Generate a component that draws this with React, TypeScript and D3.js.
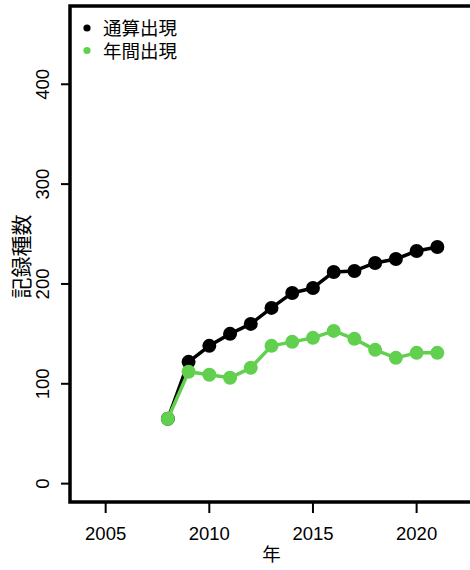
import React from "react";
import * as d3 from "d3";

const years = [2008, 2009, 2010, 2011, 2012, 2013, 2014, 2015, 2016, 2017, 2018, 2019, 2020, 2021];
const cumulative = [65, 122, 138, 150, 160, 176, 191, 196, 212, 213, 221, 225, 233, 237];
const annual = [65, 112, 109, 106, 116, 138, 142, 146, 153, 145, 134, 126, 131, 131];
const xTicks = [2005, 2010, 2015, 2020];
const yTicks = [0, 100, 200, 300, 400];
const seriesNames = ["通算出現", "年間出現"];
const seriesColors = ["#000000", "#61D04F"];
const xLabel = "年";
const yLabel = "記録種数";

const W = 470;
const H = 570;
const plot = { left: 70, right: 473, top: 6, bottom: 502 };
const FONT = "'Liberation Sans', Arial, 'Noto Sans CJK JP', sans-serif";

function ext(a: number, b: number): [number, number] {
  const d = (b - a) * 0.04;
  return [a - d, b + d];
}

export default function App() {
  const x = d3.scaleLinear().domain(ext(2004, 2022)).range([plot.left, plot.right]);
  const y = d3.scaleLinear().domain(ext(0, 460)).range([plot.bottom, plot.top]);
  const line = d3
    .line<number>()
    .x((_, i) => x(years[i]))
    .y((v) => y(v));
  const series = [cumulative, annual];
  const fs = 18.5;
  return (
    <svg
      width={W}
      height={H}
      style={{ position: "absolute", left: 0, top: 0, background: "#fff" }}
      fontFamily={FONT}
    >
      <rect x={0} y={0} width={W} height={H} fill="#fff" />
      {/* box */}
      <rect
        x={plot.left}
        y={plot.top}
        width={plot.right - plot.left}
        height={plot.bottom - plot.top}
        fill="none"
        stroke="#000"
        strokeWidth={3.5}
      />
      {/* y axis */}
      {yTicks.map((t) => (
        <g key={"y" + t}>
          <line x1={plot.left - 9} x2={plot.left} y1={y(t)} y2={y(t)} stroke="#000" strokeWidth={2} />
          <text
            transform={`translate(49,${y(t)}) rotate(-90)`}
            textAnchor="middle"
            fontSize={fs}
          >
            {t}
          </text>
        </g>
      ))}
      {/* x axis */}
      {xTicks.map((t) => (
        <g key={"x" + t}>
          <line x1={x(t)} x2={x(t)} y1={plot.bottom} y2={plot.bottom + 11} stroke="#000" strokeWidth={2} />
          <text x={x(t)} y={540} textAnchor="middle" fontSize={fs}>
            {t}
          </text>
        </g>
      ))}
      <text x={(plot.left + plot.right) / 2} y={561} textAnchor="middle" fontSize={fs}>
        {xLabel}
      </text>
      <text
        transform={`translate(29,256.5) rotate(-90)`}
        textAnchor="middle"
        fontSize={21}
      >
        {yLabel}
      </text>
      {/* series */}
      {series.map((s, k) => (
        <g key={"s" + k}>
          <path d={line(s) || ""} fill="none" stroke={seriesColors[k]} strokeWidth={3.5} strokeLinejoin="round" />
          {s.map((v, i) => (
            <circle key={i} cx={x(years[i])} cy={y(v)} r={7} fill={seriesColors[k]} />
          ))}
        </g>
      ))}
      {/* legend */}
      {seriesNames.map((n, k) => (
        <g key={"l" + k}>
          <circle cx={87} cy={28 + k * 22.5} r={3.6} fill={seriesColors[k]} />
          <text x={103} y={35 + k * 22.5} fontSize={fs}>
            {n}
          </text>
        </g>
      ))}
    </svg>
  );
}
